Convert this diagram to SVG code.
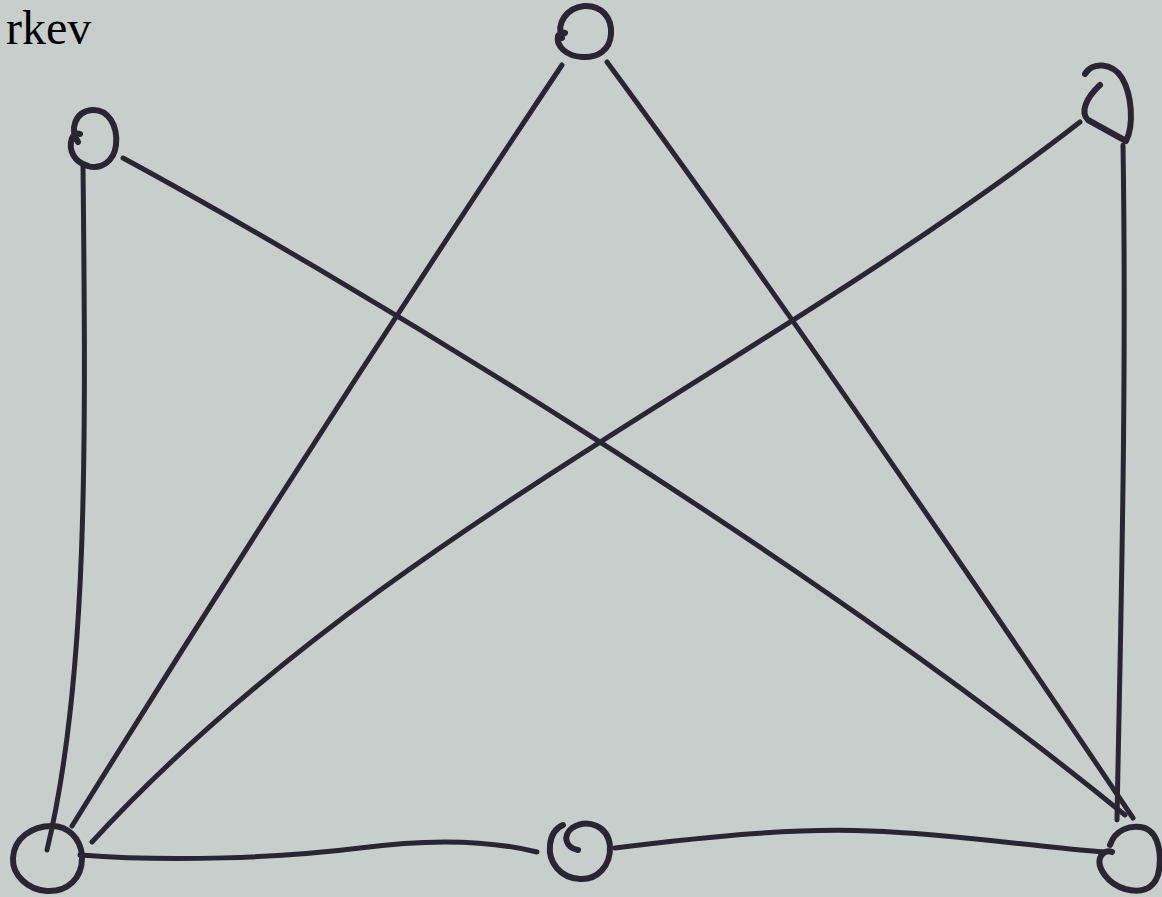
<svg xmlns="http://www.w3.org/2000/svg" width="1162" height="897" viewBox="0 0 1162 897">
<style>
.ink{fill:none;stroke:#2a2532;stroke-width:6;stroke-linecap:round;stroke-linejoin:round}
.edge{fill:none;stroke:#2a2532;stroke-width:5;stroke-linecap:round;stroke-linejoin:round}
.lbl{font-family:"Liberation Serif","Times New Roman",serif;font-size:48px;fill:#000}
</style>
<rect x="0" y="0" width="1162" height="897" fill="#c8cecc"/>
<text class="lbl" x="6" y="44">rkev</text>
<g id="edges">
<path class="edge" d="M83,165 C86,450 88,680 47,850"/>
<path class="edge" d="M123,158 C330,270 800,550 1125,815"/>
<path class="edge" d="M562,65 Q312,440 72,826"/>
<path class="edge" d="M607,62 Q805,330 1133,818"/>
<path class="edge" d="M1080,122 C758,372 373,536 92,842"/>
<path class="edge" d="M1123,145 C1127,400 1120,650 1117,820"/>
<path class="edge" d="M80,855 C170,862 280,858 360,848 C420,840 480,838 537,852"/>
<path class="edge" d="M615,848 C720,835 800,828 870,831 C960,834 1040,848 1105,852"/>
</g>
<g id="nodeA"><path class="ink" d="M78,142 C70,130 74,112 92,110 C108,109 118,125 116,145 C114,162 100,170 88,166 C74,162 68,150 72,138 C74,134 77,133 80,134"/></g>
<g id="nodeB"><path class="ink" d="M562,38 C556,24 566,8 584,6 C602,5 612,18 611,34 C610,50 598,58 582,57 C566,56 556,46 558,36 C560,33 563,32 565,33"/></g>
<g id="nodeC"><path class="ink" d="M1085,74 C1092,62 1112,62 1122,78 C1132,95 1134,125 1126,141 L1088,120 C1080,112 1086,98 1100,85"/></g>
<g id="nodeD"><path class="ink" d="M82,858 C82,878 68,892 47,891 C28,890 12,875 13,858 C14,838 32,826 52,826 C68,826 80,838 82,855"/></g>
<g id="nodeE"><path class="ink" d="M578,850 C566,848 562,836 572,828 C588,818 608,826 610,846 C611,866 597,880 580,879 C560,878 548,862 550,845 C551,835 556,828 563,825"/></g>
<g id="nodeF"><path class="ink" d="M1110,845 C1115,830 1130,824 1145,828 C1160,834 1162,858 1158,875 C1153,890 1140,893 1125,889 C1108,884 1097,868 1100,858 C1102,852 1108,850 1112,852"/></g>
</svg>
